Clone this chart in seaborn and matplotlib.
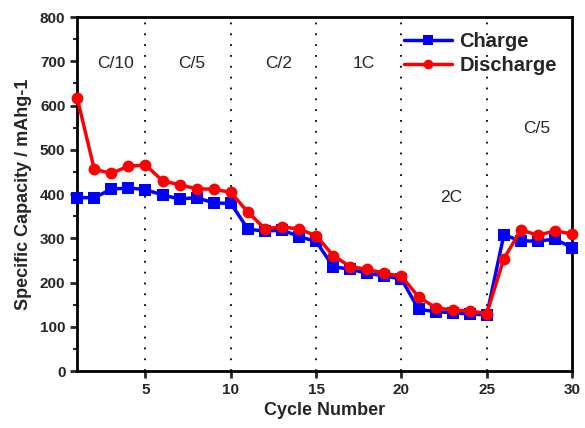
import numpy as np
import pandas as pd
import matplotlib
matplotlib.use("Agg")
import matplotlib.pyplot as plt
import seaborn as sns
from matplotlib.ticker import MultipleLocator

# Rate capability data
cycles = list(range(1, 31))
charge = [392, 392, 411, 414, 410, 398, 389, 392, 380, 379,
          321, 316, 319, 304, 293, 236, 230, 221, 215, 208,
          140, 134, 132, 129, 127, 308, 294, 294, 298, 279]
discharge = [617, 456, 447, 463, 466, 430, 421, 412, 411, 404,
             359, 322, 326, 321, 306, 261, 236, 230, 221, 214,
             168, 143, 138, 136, 130, 254, 319, 307, 317, 310]
rate_labels = ["C/10", "C/5", "C/2", "1C", "2C", "C/5"]
rate_x = [3.25, 7.7, 12.8, 17.8, 22.9, 27.9]
rate_y = [696, 696, 696, 696, 393, 549]
boundaries = [5, 10, 15, 20, 25]

df = pd.DataFrame({"cycle": cycles, "Charge": charge, "Discharge": discharge})
long_df = df.melt(id_vars="cycle", var_name="series", value_name="capacity")

sns.set_theme(style="ticks")
plt.rcParams["font.family"] = ["Liberation Sans", "DejaVu Sans"]

fig = plt.figure(figsize=(5.85, 4.28), dpi=100)
ax = fig.add_axes([0.132, 0.133, 0.846, 0.827])

for xb in boundaries:
    ax.axvline(xb, color="black", linestyle=(0, (1, 5)), linewidth=1.3, zorder=1)

sns.lineplot(data=long_df, x="cycle", y="capacity", hue="series", style="series",
             palette={"Charge": "#0000ff", "Discharge": "#ff0000"},
             markers={"Charge": "s", "Discharge": "o"}, dashes=False,
             linewidth=2.5, markersize=8.5, markeredgewidth=0, ax=ax, zorder=3,
             legend=False)
for line in ax.lines:
    line.set_clip_on(False)

for lab, xx, yy in zip(rate_labels, rate_x, rate_y):
    ax.text(xx, yy, lab, ha="center", va="center", fontsize=12.5)

ax.set_xlim(1, 30)
ax.set_ylim(0, 800)
ax.xaxis.set_major_locator(MultipleLocator(5))
ax.yaxis.set_major_locator(MultipleLocator(100))
ax.yaxis.set_minor_locator(MultipleLocator(50))
ax.tick_params(axis="both", which="major", length=5, width=2, labelsize=11, direction="out")
ax.tick_params(axis="y", which="minor", length=3, width=1.5, direction="out")
for lbl in ax.get_xticklabels() + ax.get_yticklabels():
    lbl.set_fontweight("bold")
for sp in ax.spines.values():
    sp.set_linewidth(2)
    sp.set_color("black")

ax.set_xlabel("Cycle Number", fontsize=13, fontweight="bold")
ax.set_ylabel("Specific Capacity / mAhg-1", fontsize=13, fontweight="bold", labelpad=6)

# legend handles built to match the plotted series
handles = [
    plt.Line2D([], [], color="#0000ff", marker="s", linewidth=2.5, markersize=7, markeredgewidth=0),
    plt.Line2D([], [], color="#ff0000", marker="o", linewidth=2.5, markersize=7, markeredgewidth=0),
]
ax.legend(handles, ["Charge", "Discharge"], loc="upper right", frameon=False,
          prop={"weight": "bold", "size": 14.5}, handlelength=2.4, handletextpad=0.35,
          borderaxespad=0.25, borderpad=0.5, labelspacing=0.25)

fig.savefig("out.png", dpi=100)
